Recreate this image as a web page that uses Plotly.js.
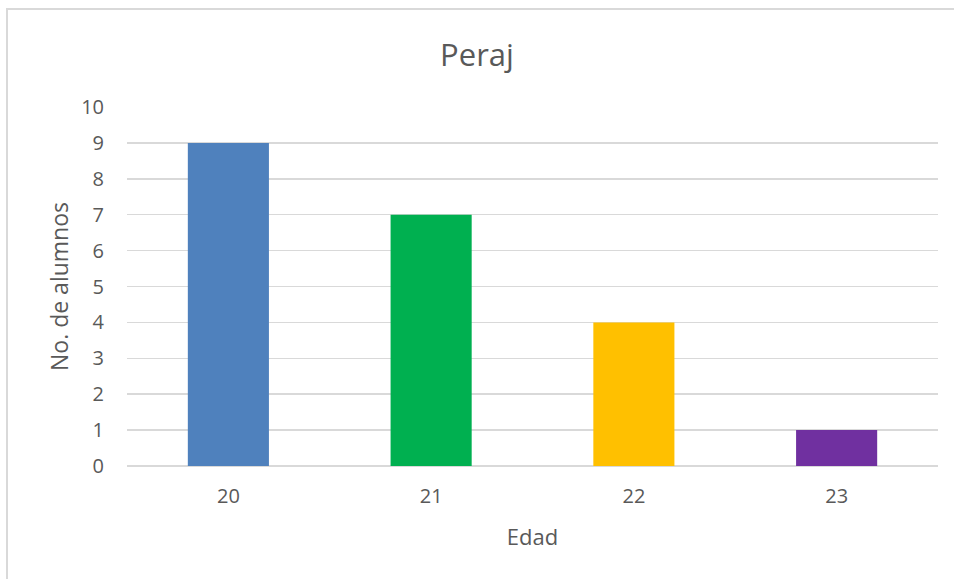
<!DOCTYPE html>
<html>
<head>
<meta charset="utf-8">
<script src="https://cdn.plot.ly/plotly-3.0.1.min.js"></script>
<style>
  html, body { margin: 0; padding: 0; background: #fff; overflow: hidden; }
  #chart { position: absolute; left: 0; top: 0; width: 954px; height: 579px; }
  #frame { position: absolute; left: 6px; top: 8px; width: 1000px; height: 700px;
           border: 2px solid #d9d9d9; pointer-events: none; }
</style>
</head>
<body>
<div id="chart"></div>
<div id="frame"></div>
<script>
const categories = ["20", "21", "22", "23"];
const values = [9, 7, 4, 1];
const barColors = ["#4F81BD", "#00B050", "#FFC000", "#7030A0"];
const yTicks = [0, 1, 2, 3, 4, 5, 6, 7, 8, 9, 10];

const font = "'Open Sans', 'Noto Sans', sans-serif";
const trace = {
  type: "bar",
  x: categories,
  y: values,
  marker: { color: barColors },
  width: 0.4,
  hoverinfo: "x+y"
};

const layout = {
  width: 954, height: 579,
  margin: { l: 127, r: 16, t: 107, b: 113 },
  paper_bgcolor: "#fff", plot_bgcolor: "#fff",
  showlegend: false,
  font: { family: font, color: "#595959", size: 20 },
  title: { text: "Peraj", font: { family: font, size: 31, color: "#595959" },
           x: 0.5, xanchor: "center", y: 0.905, yanchor: "middle" },
  xaxis: {
    type: "category",
    showgrid: false, zeroline: false, showline: false,
    ticks: "", ticklabelstandoff: 16,
    tickfont: { size: 20, color: "#595959" },
    title: { text: "Edad", font: { size: 22, color: "#595959" }, standoff: 21 }
  },
  yaxis: {
    range: [0, 10],
    tickvals: yTicks,
    ticktext: yTicks.map(String),
    showgrid: true, gridcolor: "#d9d9d9", gridwidth: 1.5,
    zeroline: true, zerolinecolor: "#d9d9d9", zerolinewidth: 1.5,
    showline: false, ticks: "", ticklabelstandoff: 22,
    tickfont: { size: 20, color: "#595959" },
    title: { text: "No. de alumnos", font: { size: 23, color: "#595959" }, standoff: 6 }
  }
};

Plotly.newPlot("chart", [trace], layout, { displayModeBar: false, staticPlot: true });
</script>
</body>
</html>
